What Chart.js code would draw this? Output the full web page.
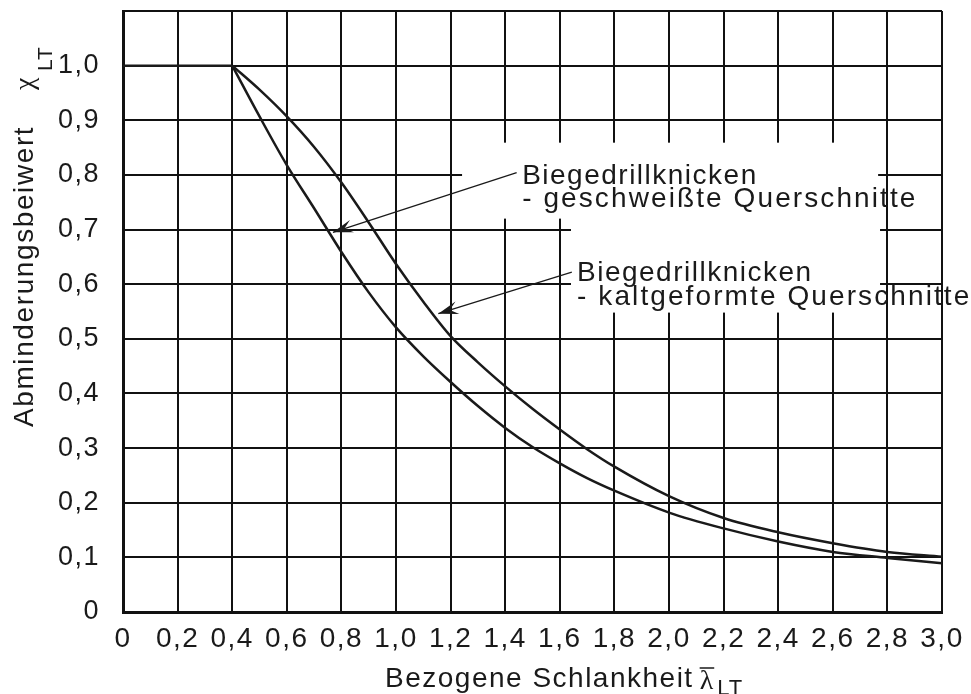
<!DOCTYPE html>
<html>
<head>
<meta charset="utf-8">
<script src="https://cdn.jsdelivr.net/npm/chart.js@4/dist/chart.umd.min.js"></script>
<style>
  body { margin: 0; background: #fff; }
</style>
</head>
<body>
<canvas id="myChart" width="971" height="694"></canvas>
<script>
// plateau chi = 1 up to lambda = 0.4
var lambdaPlateau = [0, 0.4];
var chiPlateau = [1, 1];

// lambda from 0.4 to 3.0
var lambdaValues = [0.4, 0.5, 0.6, 0.7, 0.8, 0.9, 1.0, 1.1, 1.2, 1.3, 1.4, 1.5, 1.6, 1.7, 1.8, 2.0, 2.2, 2.4, 2.6, 2.8, 3.0];
var chiKalt   = [1, 0.956, 0.907, 0.851, 0.786, 0.713, 0.637, 0.568, 0.505, 0.457, 0.413, 0.372, 0.334, 0.298, 0.266, 0.212, 0.172, 0.146, 0.126, 0.110, 0.101];
var chiGeschw = [1, 0.907, 0.818, 0.739, 0.659, 0.585, 0.521, 0.468, 0.421, 0.377, 0.337, 0.302, 0.272, 0.245, 0.222, 0.182, 0.153, 0.129, 0.110, 0.099, 0.089];

var labelGeschw = ["Biegedrillknicken", "- geschweißte Querschnitte"];
var labelKalt = ["Biegedrillknicken", "- kaltgeformte Querschnitte"];

function fmt(v) {
  if (Math.abs(v) < 1e-9) return "0";
  return v.toFixed(1).replace(".", ",");
}
function pts(xs, ys) {
  return xs.map(function (x, i) { return { x: x, y: ys[i] }; });
}

var ink = "#1a1a1a";
var sans = "'Liberation Sans', Arial, sans-serif";

function arrow(ctx, x0, y0, x1, y1) {
  ctx.beginPath();
  ctx.moveTo(x0, y0);
  ctx.lineTo(x1, y1);
  ctx.lineWidth = 1.3;
  ctx.strokeStyle = ink;
  ctx.stroke();
  var a = Math.atan2(y1 - y0, x1 - x0);
  var ux = Math.cos(a), uy = Math.sin(a);
  var nx = -uy, ny = ux;
  var len = 20, w = 6.5, notch = 12;
  ctx.beginPath();
  ctx.moveTo(x1, y1);
  ctx.lineTo(x1 - len * ux + w * nx, y1 - len * uy + w * ny);
  ctx.lineTo(x1 - notch * ux, y1 - notch * uy);
  ctx.lineTo(x1 - len * ux - w * nx, y1 - len * uy - w * ny);
  ctx.closePath();
  ctx.fillStyle = ink;
  ctx.fill();
}

var annot = {
  id: "annot",
  beforeDraw: function (chart) {
    var ctx = chart.ctx;
    ctx.save();
    ctx.fillStyle = "#fff";
    ctx.fillRect(0, 0, chart.width, chart.height);
    ctx.restore();
    ctx.letterSpacing = "1.5px";
  },
  beforeDatasetsDraw: function (chart) {
    var ctx = chart.ctx, xs = chart.scales.x, ys = chart.scales.y;
    ctx.save();
    ctx.fillStyle = "#fff";
    // label boxes hide the grid behind the text
    var boxes = [[1.242, 0.859, 2.766, 0.720], [1.641, 0.722, 2.773, 0.548]];
    boxes.forEach(function (b) {
      var x0 = xs.getPixelForValue(b[0]), y0 = ys.getPixelForValue(b[1]);
      var x1 = xs.getPixelForValue(b[2]), y1 = ys.getPixelForValue(b[3]);
      ctx.fillRect(x0, y0, x1 - x0, y1 - y0);
    });
    ctx.restore();
  },
  afterDatasetsDraw: function (chart) {
    var ctx = chart.ctx, xs = chart.scales.x, ys = chart.scales.y;
    function px(x) { return xs.getPixelForValue(x); }
    function py(y) { return ys.getPixelForValue(y); }
    ctx.save();
    arrow(ctx, px(1.442), py(0.804), px(0.769), py(0.695));
    arrow(ctx, px(1.644), py(0.622), px(1.155), py(0.546));
    ctx.fillStyle = ink;
    ctx.font = "28px " + sans;
    ctx.textAlign = "left";
    ctx.textBaseline = "alphabetic";
    ctx.letterSpacing = "1.5px";
    ctx.fillText(labelGeschw[0], px(1.462), py(0.784));
    ctx.fillText(labelKalt[0], px(1.663), py(0.605));
    ctx.letterSpacing = "2.1px";
    ctx.fillText(labelGeschw[1], px(1.462), py(0.742));
    ctx.fillText(labelKalt[1], px(1.663), py(0.561));
    ctx.restore();
  },
  afterDraw: function (chart) {
    var ctx = chart.ctx;
    ctx.save();
    ctx.fillStyle = ink;
    ctx.strokeStyle = ink;
    ctx.textAlign = "left";
    ctx.textBaseline = "alphabetic";
    ctx.letterSpacing = "1.5px";

    // x title
    ctx.font = "28px " + sans;
    var t = "Bezogene Schlankheit";
    ctx.fillText(t, 385, 687);
    var lx = 385 + ctx.measureText(t).width + 6;
    ctx.font = "28px 'Liberation Serif', serif";
    ctx.letterSpacing = "0px";
    ctx.fillText("λ", lx, 689);
    var lw = ctx.measureText("λ").width;
    ctx.lineWidth = 1.5;
    ctx.beginPath();
    ctx.moveTo(lx, 668);
    ctx.lineTo(lx + lw + 1, 668);
    ctx.stroke();
    ctx.font = "22px " + sans;
    ctx.letterSpacing = "1px";
    ctx.fillText("LT", lx + lw + 4, 695);

    // y title (rotated)
    ctx.translate(33, 427);
    ctx.rotate(-Math.PI / 2);
    ctx.font = "28px " + sans;
    ctx.letterSpacing = "1.6px";
    ctx.fillText("Abminderungsbeiwert", 0, 0);
    ctx.font = "28px 'Liberation Serif', serif";
    ctx.letterSpacing = "0px";
    ctx.fillText("χ", 337, 0);
    ctx.font = "21px " + sans;
    ctx.letterSpacing = "1px";
    ctx.fillText("LT", 356, 19);
    ctx.restore();
  }
};

new Chart("myChart", {
  type: "line",
  data: {
    datasets: [{
      data: pts(lambdaPlateau, chiPlateau),
      borderColor: ink,
      borderWidth: 2.5,
      pointRadius: 0,
      fill: false
    }, {
      data: pts(lambdaValues, chiKalt),
      borderColor: ink,
      borderWidth: 2.5,
      pointRadius: 0,
      cubicInterpolationMode: "monotone",
      fill: false
    }, {
      data: pts(lambdaValues, chiGeschw),
      borderColor: ink,
      borderWidth: 2.5,
      pointRadius: 0,
      cubicInterpolationMode: "monotone",
      fill: false
    }]
  },
  options: {
    responsive: false,
    animation: false,
    layout: { padding: { left: 0, top: 11, right: 29, bottom: 0 } },
    plugins: { legend: { display: false }, tooltip: { enabled: false } },
    scales: {
      x: {
        type: "linear",
        min: 0, max: 3,
        grid: { color: "#111", lineWidth: 2, drawTicks: false },
        border: { color: "#111", width: 3 },
        ticks: {
          stepSize: 0.2,
          padding: 10,
          maxRotation: 0,
          autoSkip: false,
          color: ink,
          font: { family: sans, size: 28 },
          callback: function (v) { return fmt(v); }
        },
        afterFit: function (s) {
          s.height = 82;
          s.paddingLeft = 0;
          s.paddingRight = 0;
        }
      },
      y: {
        min: 0, max: 1.1,
        grid: { color: "#111", lineWidth: 2, drawTicks: false },
        border: { color: "#111", width: 3 },
        ticks: {
          stepSize: 0.1,
          padding: 23,
          autoSkip: false,
          color: ink,
          font: { family: sans, size: 27 },
          callback: function (v) { return v > 1.05 ? "" : fmt(v); }
        },
        afterFit: function (s) {
          s.width = 123;
          s.paddingTop = 0;
          s.paddingBottom = 0;
        }
      }
    }
  },
  plugins: [annot]
});
</script>
</body>
</html>
